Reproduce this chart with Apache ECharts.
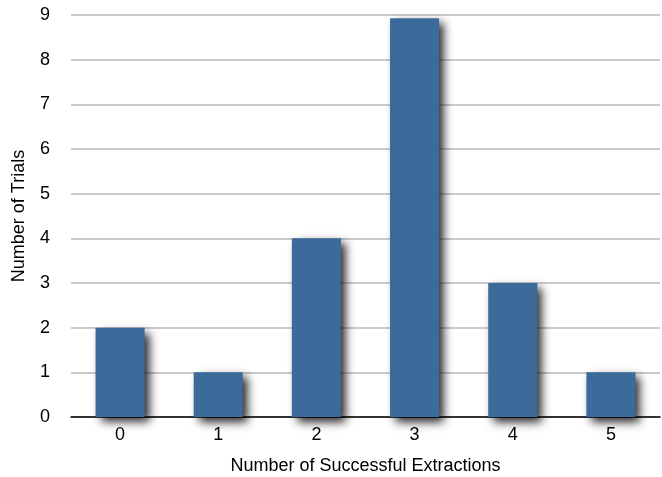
<!DOCTYPE html>
<html><head><meta charset="utf-8">
<script src="https://cdn.jsdelivr.net/npm/echarts@6/dist/echarts.min.js"></script>
<style>html,body{margin:0;padding:0;background:#fff}#c{width:662px;height:477px}</style>
</head><body><div id="c"></div>
<script>
const categories = ['0','1','2','3','4','5'];
const trials = [2, 1, 4, 8.93, 3, 1];
const yTicks = [0,1,2,3,4,5,6,7,8,9];

const chart = echarts.init(document.getElementById('c'), null, {renderer:'canvas'});
const font = '"Liberation Sans", Arial, sans-serif';
const fs = 18;
chart.setOption({
  animation: false,
  grid: {left: 71, right: 2, top: 15, bottom: 60, containLabel: false, outerBoundsMode: 'none'},
  xAxis: {
    type: 'category', data: categories,
    name: 'Number of Successful Extractions', nameLocation: 'middle', nameGap: 40,
    nameTextStyle: {fontFamily: font, fontSize: fs, color: '#000'},
    axisLine: {lineStyle: {color: '#000', width: 1.5}},
    axisTick: {show: false},
    axisLabel: {fontFamily: font, fontSize: fs, color: '#000', margin: 9}
  },
  yAxis: {
    type: 'value', min: yTicks[0], max: yTicks[yTicks.length-1], interval: 1,
    name: 'Number of Trials', nameLocation: 'middle', nameGap: 43,
    nameTextStyle: {fontFamily: font, fontSize: fs, color: '#000'},
    axisLine: {show: false}, axisTick: {show: false},
    axisLabel: {fontFamily: font, fontSize: fs, color: '#000', margin: 21},
    splitLine: {lineStyle: {color: '#b8b8b8', width: 1.5}}
  },
  series: [{
    type: 'bar', data: trials, barWidth: '50%',
    itemStyle: {color: '#3b6a9b', shadowBlur: 9, shadowOffsetX: 5, shadowOffsetY: 5, shadowColor: 'rgba(0,0,0,0.85)'}
  }]
});
</script></body></html>
